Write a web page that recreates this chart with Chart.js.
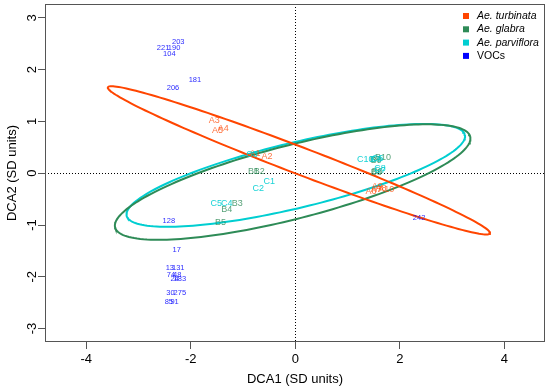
<!DOCTYPE html>
<html>
<head>
<meta charset="utf-8">
<script src="https://cdn.jsdelivr.net/npm/chart.js@4.4.0/dist/chart.umd.min.js"></script>
<style>
  html, body { margin: 0; padding: 0; background: #fff; }
  #wrap { width: 550px; height: 390px; }
</style>
</head>
<body>
<div id="wrap"><canvas id="dca"></canvas></div>
<script>
// Sample scores (DCA1, DCA2)
const turbinataLabels = ['A1', 'A2', 'A3', 'A4', 'A5', 'A6', 'A7', 'A8', 'A9', 'A10'];
const turbinataX = [-0.77, -0.54, -1.55, -1.38, -1.49, 1.45, 1.55, 1.64, 1.57, 1.74];
const turbinataY = [0.39, 0.33, 1.02, 0.87, 0.83, -0.36, -0.32, -0.30, -0.26, -0.32];

const glabraLabels = ['B1', 'B2', 'B3', 'B4', 'B5', 'B6', 'B7', 'B8', 'B9', 'B10'];
const glabraX = [-0.80, -0.69, -1.11, -1.31, -1.43, 1.57, 1.53, 1.55, 1.55, 1.68];
const glabraY = [0.04, 0.04, -0.58, -0.71, -0.96, 0.03, 0.26, 0.02, 0.24, 0.31];

const parvifloraLabels = ['C1', 'C2', 'C3', 'C4', 'C5', 'C6', 'C7', 'C8', 'C9', 'C10'];
const parvifloraX = [-0.50, -0.71, -0.83, -1.31, -1.51, 1.58, 1.62, 1.62, 1.55, 1.34];
const parvifloraY = [-0.15, -0.29, 0.37, -0.58, -0.58, 0.29, 0.06, 0.10, 0.26, 0.27];

// VOC scores
const vocLabels = ['203', '221', '190', '104', '181', '206', '242', '128', '17', '13', '131',
                   '74', '48', '24', '183', '30', '275', '85', '91'];
const vocX = [-2.24, -2.53, -2.32, -2.41, -1.92, -2.34, 2.37, -2.42, -2.27, -2.40, -2.24,
              -2.38, -2.26, -2.31, -2.21, -2.39, -2.21, -2.42, -2.31];
const vocY = [2.54, 2.42, 2.42, 2.30, 1.81, 1.64, -0.87, -0.92, -1.49, -1.83, -1.83,
              -1.96, -1.96, -2.05, -2.05, -2.31, -2.31, -2.49, -2.49];

// Group ellipses: centre x, centre y, semi-axis a, semi-axis b, angle (deg)
const turbinataEllipse = [0.07, 0.25, 3.92, 0.26, -21.1];
const glabraEllipse = [-0.05, -0.17, 3.51, 0.71, 14.5];
const parvifloraEllipse = [0.01, -0.04, 3.33, 0.63, 13.6];

// Axes
const xTicks = [-4, -2, 0, 2, 4];
const yTicks = [-3, -2, -1, 0, 1, 2, 3];
const xRange = [-4.79, 4.78];
const yRange = [-3.26, 3.27];

const legendNames = ['Ae. turbinata', 'Ae. glabra', 'Ae. parviflora', 'VOCs'];
const legendItalic = [true, true, true, false];

const FONT = '"Liberation Sans", Arial, Helvetica, sans-serif';
const colTurb = '#FF4500', colGlab = '#2E8B57', colParv = '#00CED1', colVoc = '#0000FF';
const legendColors = [colTurb, colGlab, colParv, colVoc];

function toPoints(xs, ys) {
    return xs.map((x, i) => ({ x: x, y: ys[i] }));
}

function ellipsePoints(e) {
    const pts = [];
    const t = e[4] * Math.PI / 180;
    for (let i = 0; i <= 180; i++) {
        const a = i / 180 * 2 * Math.PI;
        const u = e[2] * Math.cos(a), v = e[3] * Math.sin(a);
        pts.push({ x: e[0] + u * Math.cos(t) - v * Math.sin(t),
                   y: e[1] + u * Math.sin(t) + v * Math.cos(t) });
    }
    return pts;
}

function ellipseSet(e, color) {
    return { data: ellipsePoints(e), showLine: true, borderColor: color, borderWidth: 2,
             pointRadius: 0, fill: false, tension: 0 };
}

function labelSet(xs, ys, labels, color, size) {
    return { data: toPoints(xs, ys), textLabels: labels, textColor: color, textSize: size,
             pointRadius: 0, showLine: false };
}

// Draws point labels, the box, rotated y ticks, axis titles and the legend
const rPlot = {
    id: 'rPlot',
    afterDatasetsDraw(chart) {
        const ctx = chart.ctx;
        ctx.save();
        ctx.textAlign = 'center';
        ctx.textBaseline = 'middle';
        chart.data.datasets.forEach((ds, i) => {
            if (!ds.textLabels) return;
            ctx.font = ds.textSize + 'px ' + FONT;
            ctx.fillStyle = ds.textColor;
            chart.getDatasetMeta(i).data.forEach((el, j) => {
                ctx.fillText(ds.textLabels[j], el.x, el.y);
            });
        });
        ctx.restore();
    },
    afterDraw(chart) {
        const ctx = chart.ctx;
        const area = chart.chartArea;
        const ys = chart.scales.y;
        ctx.save();
        // box
        ctx.strokeStyle = '#555';
        ctx.lineWidth = 1;
        ctx.strokeRect(Math.round(area.left) + 0.5, Math.round(area.top) + 0.5,
                       Math.round(area.right - area.left) - 1, Math.round(area.bottom - area.top) - 1);
        // y tick labels, rotated like R
        ctx.fillStyle = '#000';
        ctx.font = '13px ' + FONT;
        ctx.textAlign = 'center';
        ctx.textBaseline = 'middle';
        yTicks.forEach(v => {
            ctx.save();
            ctx.translate(32, ys.getPixelForValue(v));
            ctx.rotate(-Math.PI / 2);
            ctx.fillText(String(v), 0, 0);
            ctx.restore();
        });
        // axis titles
        ctx.fillText('DCA1 (SD units)', (area.left + area.right) / 2, 379);
        ctx.save();
        ctx.translate(12, (area.top + area.bottom) / 2);
        ctx.rotate(-Math.PI / 2);
        ctx.fillText('DCA2 (SD units)', 0, 0);
        ctx.restore();
        // legend
        ctx.textAlign = 'left';
        legendNames.forEach((name, i) => {
            const y = area.top + 12 + i * 13.3;
            ctx.fillStyle = legendColors[i];
            ctx.fillRect(area.right - 82, y - 3, 6, 6);
            ctx.fillStyle = '#000';
            ctx.font = (legendItalic[i] ? 'italic ' : '') + '10.5px ' + FONT;
            ctx.fillText(name, area.right - 68, y);
        });
        ctx.restore();
    }
};

const zeroGrid = {
    drawOnChartArea: true,
    color: c => (c.tick && c.tick.value === 0 ? '#000' : 'rgba(0,0,0,0)'),
    lineWidth: 1,
    drawTicks: true,
    tickLength: 7,
    tickColor: '#555',
    tickWidth: 1,
    tickBorderDash: []
};

new Chart(document.getElementById('dca'), {
    type: 'scatter',
    data: {
        datasets: [
            labelSet(vocX, vocY, vocLabels, 'rgba(0,0,255,0.85)', 7.5),
            labelSet(turbinataX, turbinataY, turbinataLabels, 'rgba(255,69,0,0.75)', 9),
            labelSet(glabraX, glabraY, glabraLabels, 'rgba(46,139,87,0.8)', 9),
            labelSet(parvifloraX, parvifloraY, parvifloraLabels, 'rgba(0,206,209,0.9)', 9),
            ellipseSet(turbinataEllipse, colTurb),
            ellipseSet(glabraEllipse, colGlab),
            ellipseSet(parvifloraEllipse, colParv)
        ]
    },
    options: {
        responsive: true,
        maintainAspectRatio: false,
        animation: false,
        devicePixelRatio: 1,
        layout: { padding: { top: 4, right: 5, left: 0, bottom: 0 } },
        plugins: { legend: { display: false }, tooltip: { enabled: false } },
        scales: {
            x: {
                type: 'linear',
                min: xRange[0],
                max: xRange[1],
                afterBuildTicks: s => { s.ticks = xTicks.map(v => ({ value: v })); },
                afterFit: s => { s.height = 48; },
                grid: zeroGrid,
                border: { display: false, dash: [1, 2] },
                ticks: { color: '#000', font: { family: FONT, size: 13 }, padding: 3,
                         maxRotation: 0, autoSkip: false }
            },
            y: {
                type: 'linear',
                min: yRange[0],
                max: yRange[1],
                afterBuildTicks: s => { s.ticks = yTicks.map(v => ({ value: v })); },
                afterFit: s => { s.width = 45; },
                grid: zeroGrid,
                border: { display: false, dash: [1, 2] },
                ticks: { display: false }
            }
        }
    },
    plugins: [rPlot]
});
</script>
</body>
</html>
